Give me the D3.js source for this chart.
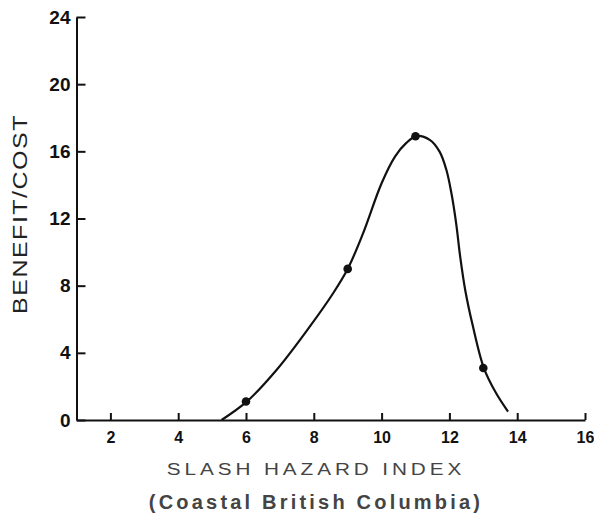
<!DOCTYPE html>
<html>
<head>
    <meta charset="utf-8">
    <title>Benefit/Cost vs Slash Hazard Index</title>
    <script type="text/javascript" src="https://cdn.jsdelivr.net/npm/d3@7"></script>
    <style>
        body { margin: 0; background: #fff; }
        .axis path, .axis line { stroke: #111; stroke-width: 2; }
        .axis text { fill: #111; font-family: "Liberation Sans", Arial, sans-serif; font-weight: bold; }
    </style>
</head>

<body>

<script type="text/javascript">
    // observed points (the dots)
    var hazardIndex = [6, 9, 11, 13];
    var benefitCost = [1.1, 9, 16.9, 3.1];

    // hand-drawn curve
    var curveX = [5.28, 6.02, 6.9, 7.88, 8.57, 9.01, 9.45, 10.0, 10.4, 10.73, 11.03, 11.42, 11.71, 11.91, 12.06, 12.2, 12.32, 12.47, 12.68, 13.02, 13.38, 13.73];
    var curveY = [0, 1.09, 2.98, 5.56, 7.55, 9.04, 11.1, 14.1, 15.7, 16.5, 16.91, 16.68, 15.98, 14.9, 13.5, 11.7, 9.7, 7.7, 5.7, 3.08, 1.59, 0.5];

    var xTicks = [2, 4, 6, 8, 10, 12, 14, 16];
    var yTicks = [0, 4, 8, 12, 16, 20, 24];

    var width = 594,
        height = 516;

    var svg = d3.select("body").append("svg")
            .attr("width", width)
            .attr("height", height);

    var x = d3.scaleLinear().domain([1, 16]).range([76.5, 585]);
    var y = d3.scaleLinear().domain([0, 24]).range([420, 17]);

    function renderXAxis(){
        var axis = d3.axisBottom(x)
                     .tickValues(xTicks)
                     .tickSizeInner(-7)
                     .tickSizeOuter(0)
                     .tickPadding(12);

        var g = svg.append('g')
            .classed('axis', true)
            .attr("transform", 'translate(0,' + y(0) + ')')
            .call(axis);
        g.selectAll('text').style('font-size', '16px');
    }

    function renderYAxis(){
        var axis = d3.axisLeft(y)
                     .tickValues(yTicks)
                     .tickSizeInner(-9)
                     .tickSizeOuter(0)
                     .tickPadding(6);

        var g = svg.append('g')
            .classed('axis', true)
            .attr("transform", 'translate(' + x(1) + ',0)')
            .call(axis);
        g.selectAll('text').style('font-size', '19px');
    }

    renderYAxis();
    renderXAxis();

    var curve = d3.zip(curveX, curveY);
    var line = d3.line()
        .x(function(d){ return x(d[0]); })
        .y(function(d){ return y(d[1]); })
        .curve(d3.curveCatmullRom.alpha(0.5));

    svg.append('path')
        .datum(curve)
        .attr('d', line)
        .attr('fill', 'none')
        .attr('stroke', '#111')
        .attr('stroke-width', 2.2);

    svg.selectAll('circle.pt')
        .data(d3.zip(hazardIndex, benefitCost))
        .enter().append('circle')
        .attr('class', 'pt')
        .attr('cx', function(d){ return x(d[0]); })
        .attr('cy', function(d){ return y(d[1]); })
        .attr('r', 4.3)
        .attr('fill', '#111');

    // axis titles (the print uses a wide grotesque, so stretch a little)
    svg.append('text')
        .attr('transform', 'translate(27,214) rotate(-90) scale(1.25,1)')
        .attr('text-anchor', 'middle')
        .style('font-family', '"Liberation Sans", Arial, sans-serif')
        .style('font-size', '20px')
        .style('letter-spacing', '1.2px')
        .style('fill', '#222')
        .text('BENEFIT/COST');

    svg.append('text')
        .attr('transform', 'translate(316,475) scale(1.22,1)')
        .attr('text-anchor', 'middle')
        .style('font-family', '"Liberation Sans", Arial, sans-serif')
        .style('font-size', '17px')
        .style('letter-spacing', '3.2px')
        .style('fill', '#444')
        .text('SLASH HAZARD INDEX');

    svg.append('text')
        .attr('x', 316)
        .attr('y', 509)
        .attr('text-anchor', 'middle')
        .style('font-family', '"Liberation Sans", Arial, sans-serif')
        .style('font-size', '20px')
        .style('font-weight', 'bold')
        .style('letter-spacing', '3.2px')
        .style('fill', '#444')
        .text('(Coastal British Columbia)');
</script>

</body>

</html>
